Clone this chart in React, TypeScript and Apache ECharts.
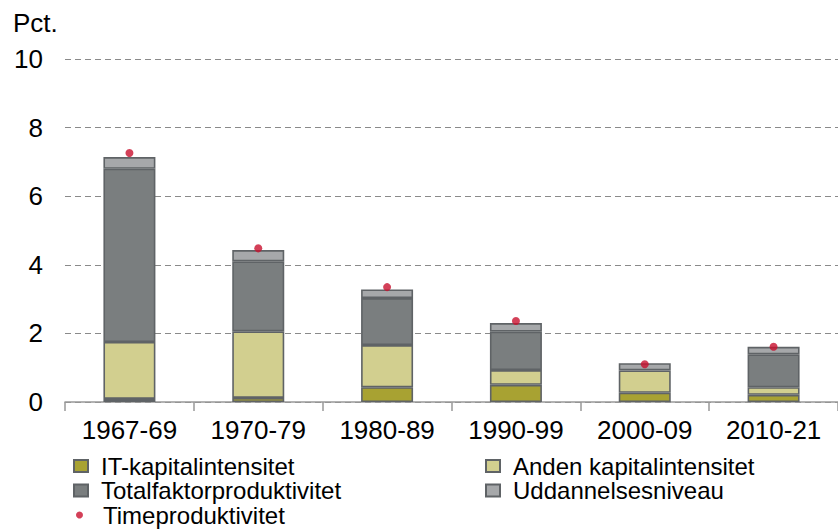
import React, { useEffect, useRef } from "react";
import * as echarts from "echarts";

const categories = ["1967-69", "1970-79", "1980-89", "1990-99", "2000-09", "2010-21"];
const itKapital = [0.09, 0.12, 0.43, 0.5, 0.27, 0.21];
const andenKapital = [1.66, 1.94, 1.23, 0.43, 0.65, 0.22];
const tfp = [5.05, 2.04, 1.37, 1.12, null, 0.96];
const uddannelse = [0.34, 0.33, 0.25, 0.25, 0.21, 0.22];
const timeprod = [7.26, 4.48, 3.35, 2.36, 1.1, 1.61];
const yTicks = [0, 2, 4, 6, 8, 10];

const FONT = "'Liberation Sans', Arial, sans-serif";
const BORDER = "#5f6366";

export default function App() {
  const ref = useRef<HTMLDivElement>(null);
  useEffect(() => {
    if (!ref.current) return;
    const chart = echarts.init(ref.current, undefined, { renderer: "svg" });
    const barSeries = (name: string, data: (number | null)[], color: string) => ({
      name,
      type: "bar",
      stack: "total",
      data,
      barWidth: 52,
      itemStyle: { color, borderColor: BORDER, borderWidth: 1.6 },
    });
    const legendItem = (name: string, left: number, top: number, icon: string, w: number, h: number, pad: number) => ({
      data: [{ name, icon }],
      left,
      top,
      padding: 0,
      itemWidth: w,
      itemHeight: h,
      selectedMode: false,
      textStyle: { fontSize: 24, lineHeight: 22, color: "#000", fontFamily: FONT, padding: [0, 0, 0, pad] },
    });
    chart.setOption({
      animation: false,
      textStyle: { fontFamily: FONT },
      grid: { left: 65, right: 0, top: 59, bottom: 129, containLabel: false },
      graphic: [
        { type: "text", left: 13, top: 10, style: { text: "Pct.", fontSize: 26, fill: "#000", fontFamily: FONT } },
      ],
      xAxis: {
        type: "category",
        data: categories,
        axisLine: { lineStyle: { color: "#999", width: 1.5 } },
        axisTick: { show: true, length: 9, lineStyle: { color: "#999", width: 1.5 } },
        axisLabel: { fontSize: 26, color: "#000", margin: 15, fontFamily: FONT },
      },
      yAxis: {
        type: "value",
        min: yTicks[0],
        max: yTicks[yTicks.length - 1],
        interval: 2,
        axisLine: { show: false },
        axisTick: { show: false },
        axisLabel: { fontSize: 26, color: "#000", margin: 22, fontFamily: FONT },
        splitLine: { lineStyle: { color: "#8a8a8a", type: [6, 4], width: 1 } },
      },
      legend: [
        legendItem("IT-kapitalintensitet", 73, 454, "rect", 14, 12, 8),
        legendItem("Anden kapitalintensitet", 485, 454, "rect", 14, 12, 8),
        legendItem("Totalfaktorproduktivitet", 73, 478.5, "rect", 14, 12, 8),
        legendItem("Uddannelsesniveau", 485, 478.5, "rect", 14, 12, 8),
        legendItem("Timeproduktivitet", 76, 503, "circle", 7, 7, 15),
      ],
      series: [
        barSeries("IT-kapitalintensitet", itKapital, "#a8a232"),
        barSeries("Anden kapitalintensitet", andenKapital, "#d2cf8f"),
        barSeries("Totalfaktorproduktivitet", tfp, "#7a7e7f"),
        barSeries("Uddannelsesniveau", uddannelse, "#a6a8aa"),
        {
          name: "Timeproduktivitet",
          type: "scatter",
          data: timeprod,
          symbolSize: 8,
          itemStyle: { color: "#c8102e" },
          z: 5,
        },
      ],
    });
    return () => chart.dispose();
  }, []);
  return <div ref={ref} style={{ width: 838, height: 531, position: "absolute", left: 0, top: 0 }} />;
}
